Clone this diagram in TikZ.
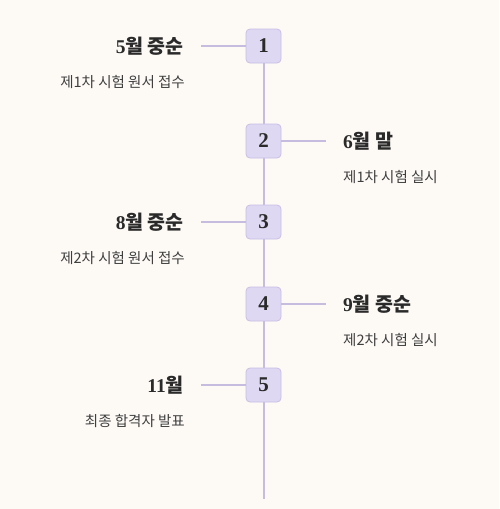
\documentclass[tikz,border=0pt]{standalone}
\usepackage{fontspec}
\newfontfamily\kr{Noto Sans CJK KR}
\newfontfamily\num{Liberation Serif}
\definecolor{PageBg}{HTML}{FDFAF6}
\definecolor{StepFill}{HTML}{DFD8F2}
\definecolor{StepLine}{HTML}{C8BEE5}
\definecolor{RailLine}{HTML}{C6BCDF}
\definecolor{InkDark}{HTML}{2A2A2A}
\usetikzlibrary{positioning}

\begin{document}
\begin{tikzpicture}[x=1pt,y=-1pt,
  stepbox/.style={draw=StepLine, fill=StepFill, rounded corners=4pt,
                  minimum width=35pt, minimum height=34pt, line width=0.8pt,
                  inner sep=0pt, text=InkDark,
                  font=\num\fontsize{21}{21}\selectfont\bfseries},
  when/.style={inner sep=0pt, text=InkDark,
               font=\kr\fontsize{19.5}{19.5}\selectfont\bfseries},
  what/.style={inner sep=0pt, text=InkDark!90,
               font=\kr\fontsize{14.5}{14.5}\selectfont},
  rail/.style={draw=RailLine, line width=2pt}]

  % page
  \fill[PageBg] (0,0) rectangle (499,509);
  \useasboundingbox (0,0) rectangle (499,509);

  % steps
  \node[stepbox] (s1) at (263.5,46)  {1};
  \node[stepbox] (s2) at (263.5,141) {2};
  \node[stepbox] (s3) at (263.5,222) {3};
  \node[stepbox] (s4) at (263.5,304) {4};
  \node[stepbox] (s5) at (263.5,385) {5};
  \coordinate (railend) at (263.5,499);

  % dates and events
  \node[when, anchor=east] (t1) at (184,46)  {\num 5\kr 월 중순};
  \node[what, anchor=east] (e1) at (185,82)  {제1차 시험 원서 접수};
  \node[when, anchor=west] (t2) at (343,141) {\num 6\kr 월 말};
  \node[what, anchor=west] (e2) at (343,177) {제1차 시험 실시};
  \node[when, anchor=east] (t3) at (184,222) {\num 8\kr 월 중순};
  \node[what, anchor=east] (e3) at (185,258) {제2차 시험 원서 접수};
  \node[when, anchor=west] (t4) at (343,304) {\num 9\kr 월 중순};
  \node[what, anchor=west] (e4) at (343,340) {제2차 시험 실시};
  \node[when, anchor=east] (t5) at (184,385) {\num 11\kr 월};
  \node[what, anchor=east] (e5) at (185,421) {최종 합격자 발표};

  % rail
  \draw[rail] (s1.south) -- (s2.north);
  \draw[rail] (s2.south) -- (s3.north);
  \draw[rail] (s3.south) -- (s4.north);
  \draw[rail] (s4.south) -- (s5.north);
  \draw[rail] (s5.south) -- (railend);

  % ticks
  \draw[rail, shorten >=17pt] (s1.west) -- (s1.west -| t1.east);
  \draw[rail, shorten >=17pt] (s2.east) -- (s2.east -| t2.west);
  \draw[rail, shorten >=17pt] (s3.west) -- (s3.west -| t3.east);
  \draw[rail, shorten >=17pt] (s4.east) -- (s4.east -| t4.west);
  \draw[rail, shorten >=17pt] (s5.west) -- (s5.west -| t5.east);
\end{tikzpicture}
\end{document}
